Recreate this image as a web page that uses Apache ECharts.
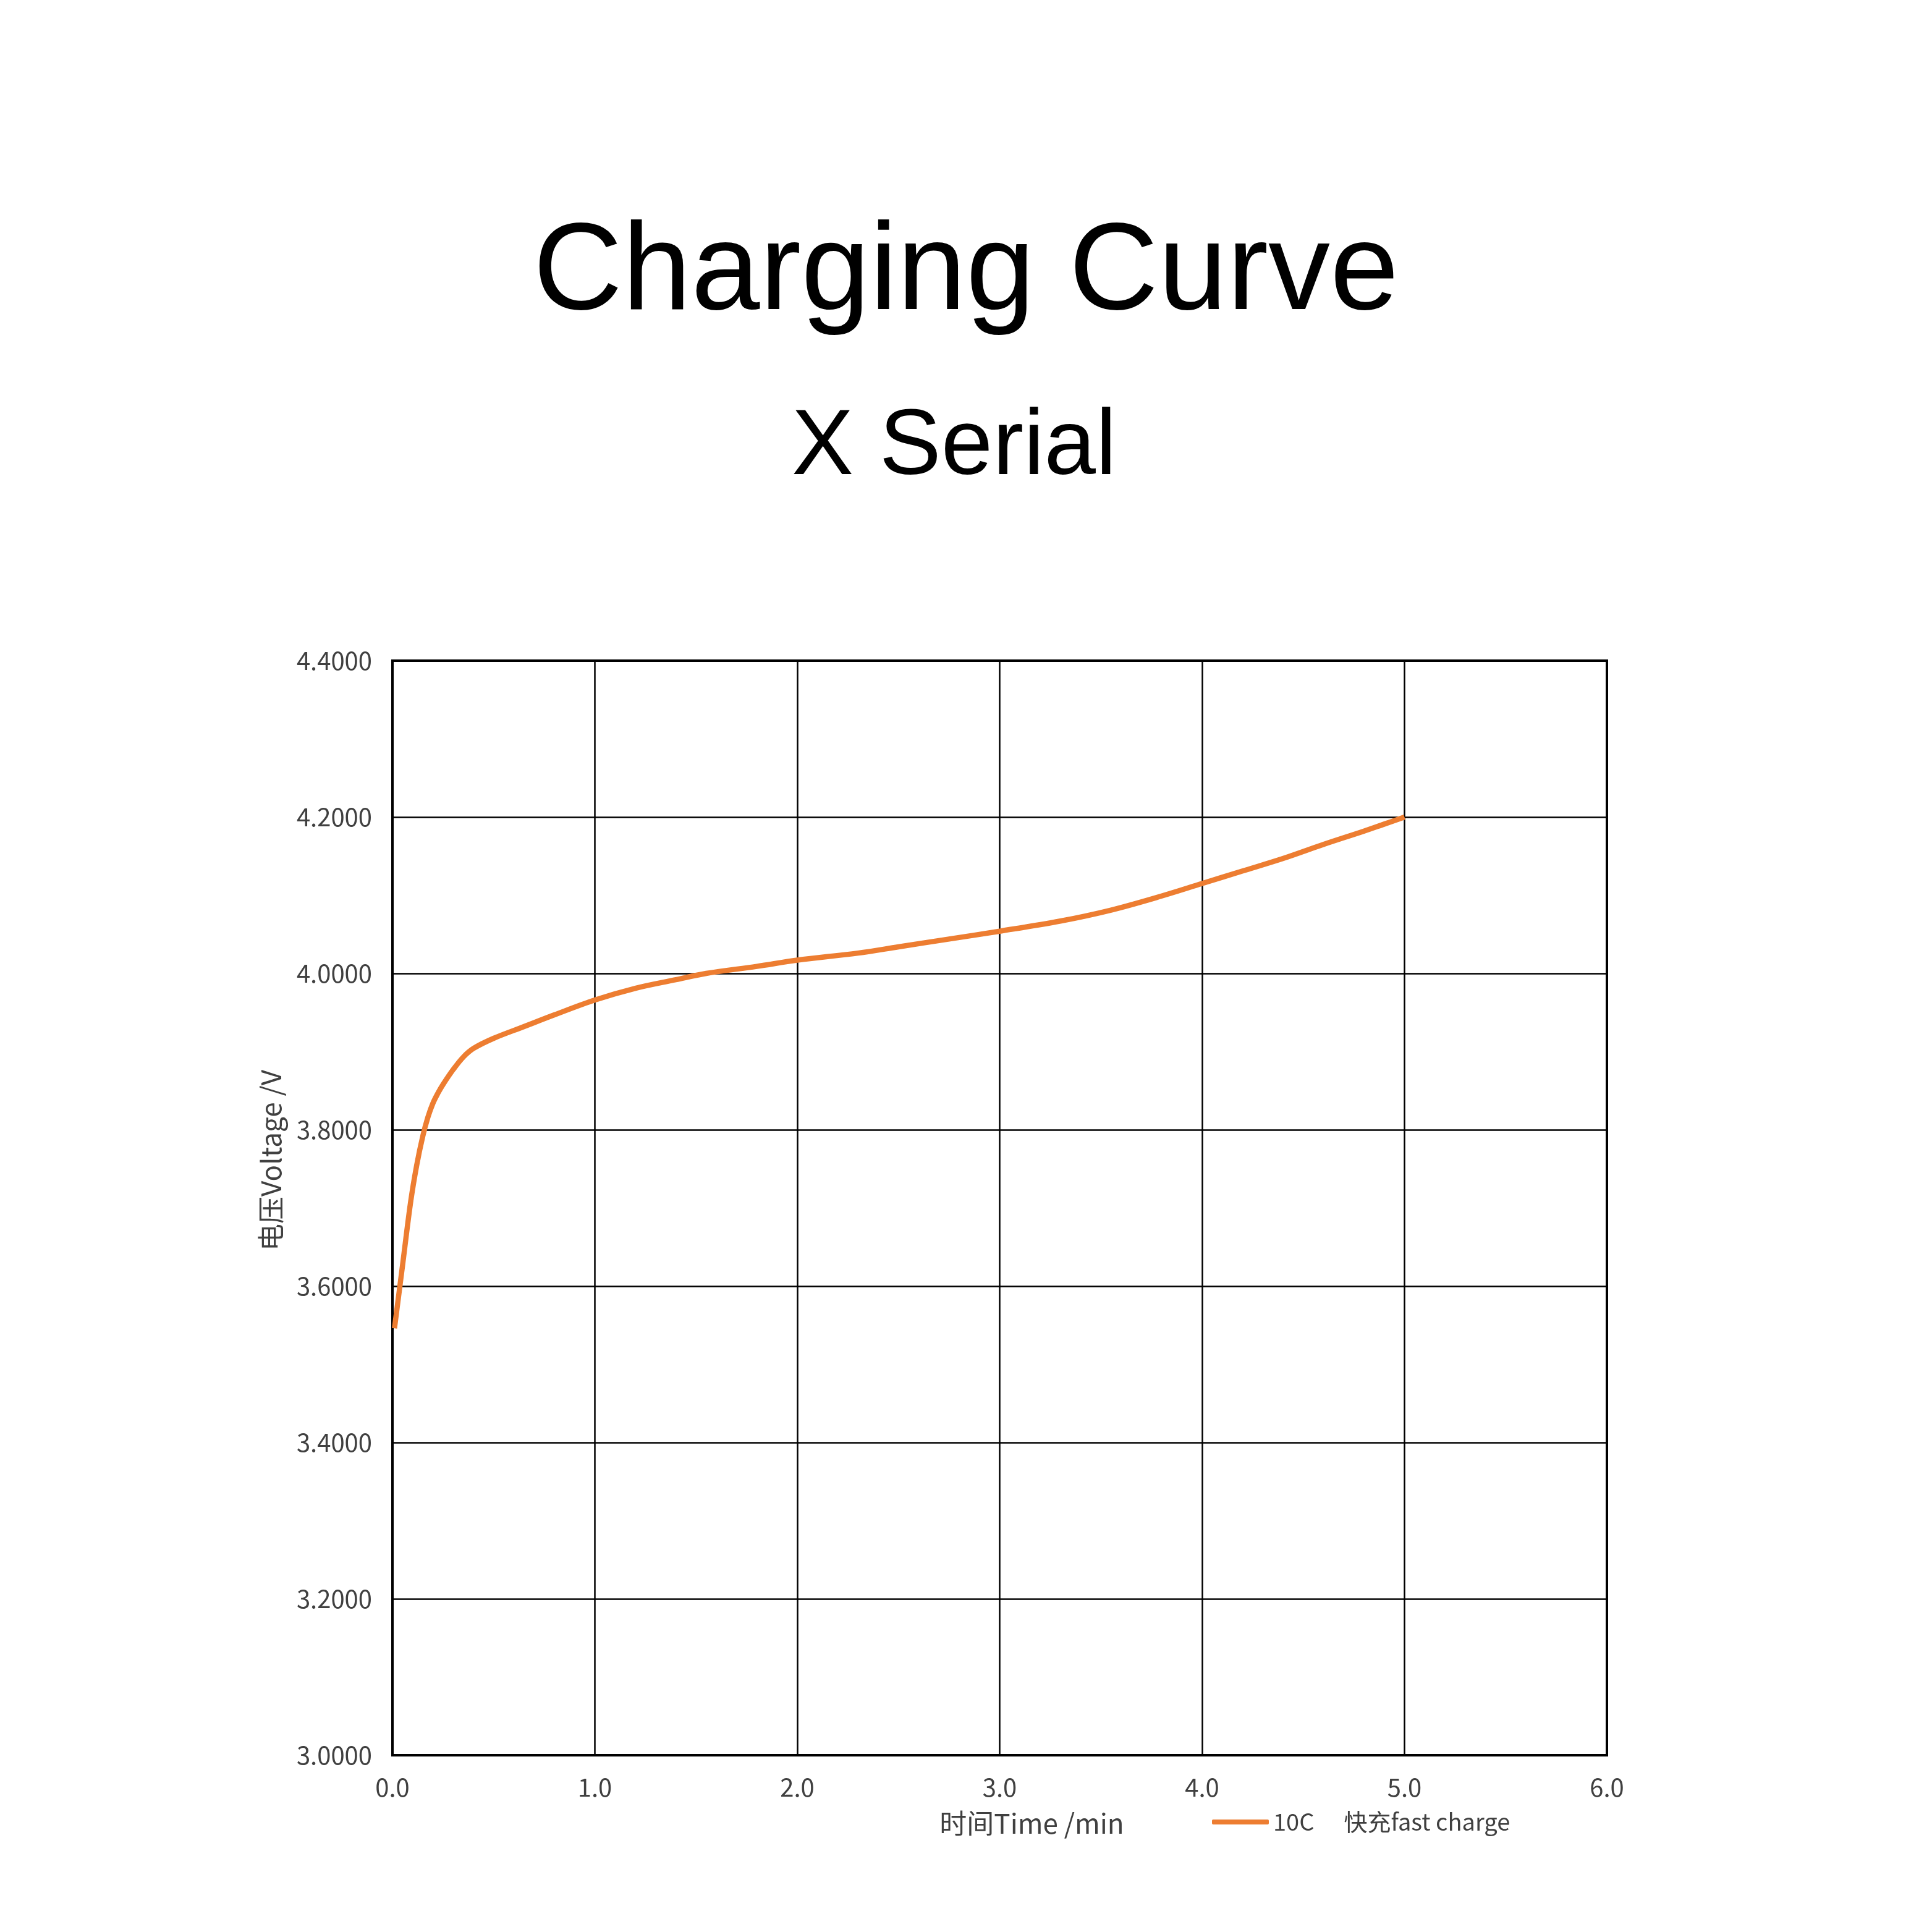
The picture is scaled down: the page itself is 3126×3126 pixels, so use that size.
<!DOCTYPE html>
<html>
<head>
<meta charset="utf-8">
<style>html,body{margin:0;padding:0;background:#fff;}#c{width:3126px;height:3126px;}</style>
<script src="https://cdn.jsdelivr.net/npm/echarts@6/dist/echarts.min.js"></script>
</head>
<body>
<div id="c"></div>
<script>
// ---- data ----
var titleText = 'Charging Curve';
var subtitleText = 'X Serial';
var xAxisName = '时间Time /min';
var yAxisName = '电压Voltage /V';
var seriesName = '10C';
var seriesNote = '快充fast charge';
var xTickLabels = ['0.0', '1.0', '2.0', '3.0', '4.0', '5.0', '6.0'];
var yTickLabels = ['3.0000', '3.2000', '3.4000', '3.6000', '3.8000', '4.0000', '4.2000', '4.4000'];
var timeMin = [0.01, 0.05, 0.09, 0.12, 0.15, 0.175, 0.20, 0.225, 0.25, 0.30, 0.35, 0.40, 0.50, 0.65, 0.80, 1.00, 1.20, 1.40, 1.55, 1.80, 2.00, 2.30, 2.50, 2.75, 3.00, 3.30, 3.55, 3.80, 4.00, 4.20, 4.40, 4.60, 4.80, 4.90, 5.00];
var voltage = [3.546, 3.627, 3.708, 3.755, 3.792, 3.816, 3.834, 3.847, 3.858, 3.877, 3.893, 3.904, 3.917, 3.932, 3.947, 3.966, 3.981, 3.992, 4.000, 4.009, 4.017, 4.026, 4.034, 4.044, 4.054, 4.067, 4.081, 4.099, 4.115, 4.131, 4.147, 4.165, 4.182, 4.191, 4.200];

var points = timeMin.map(function (t, i) { return [t, voltage[i]]; });

var chart = echarts.init(document.getElementById('c'), null, {renderer: 'canvas'});
var labelFont = '"Noto Sans CJK SC", "Noto Sans", sans-serif';
chart.setOption({
  backgroundColor: '#ffffff',
  animation: false,
  title: [
    {text: titleText, left: 'center', top: 340,
     textStyle: {fontFamily: '"Liberation Sans", Arial, sans-serif', fontSize: 200, fontWeight: 'normal', color: '#000'}},
    {text: subtitleText, left: 1276, top: 646,
     textStyle: {fontFamily: '"Liberation Sans", Arial, sans-serif', fontSize: 150, fontWeight: 'normal', color: '#000'}}
  ],
  legend: {
    left: 1956, top: 2924,
    itemWidth: 92, itemHeight: 8, itemGap: 10,
    icon: 'roundRect',
    data: [seriesName],
    formatter: function (name) { return '{a|' + name + '}{b|' + seriesNote + '}'; },
    textStyle: {
      fontFamily: labelFont, fontSize: 38, color: '#404040', padding: [0, 0, 0, 2],
      rich: {
        a: {fontFamily: labelFont, fontSize: 38, color: '#404040'},
        b: {fontFamily: labelFont, fontSize: 38, color: '#404040', padding: [0, 0, 0, 48]}
      }
    }
  },
  grid: {left: 635, right: 526, top: 1069, bottom: 286, show: true, borderColor: '#000', borderWidth: 4, containLabel: false},
  xAxis: {
    type: 'value', min: 0, max: 6, interval: 1,
    name: xAxisName, nameLocation: 'middle', nameGap: 88,
    nameTextStyle: {fontFamily: labelFont, fontSize: 44, color: '#404040', padding: [0, 0, 0, 104]},
    axisLine: {show: true, lineStyle: {color: '#000', width: 4}},
    axisTick: {show: false},
    axisLabel: {fontFamily: labelFont, fontSize: 40, color: '#404040', margin: 32,
      formatter: function (v) { return xTickLabels[Math.round(v)]; }},
    splitLine: {show: true, lineStyle: {color: '#000', width: 2.5}}
  },
  yAxis: {
    type: 'value', min: 3.0, max: 4.4, interval: 0.2,
    name: yAxisName, nameLocation: 'middle', nameGap: 175, nameRotate: 90,
    nameTextStyle: {fontFamily: labelFont, fontSize: 44, color: '#404040', padding: [0, 0, 0, 154]},
    axisLine: {show: true, lineStyle: {color: '#000', width: 4}},
    axisTick: {show: false},
    axisLabel: {fontFamily: labelFont, fontSize: 40, color: '#404040', margin: 33,
      formatter: function (v) { return yTickLabels[Math.round((v - 3.0) / 0.2)]; }},
    splitLine: {show: true, lineStyle: {color: '#000', width: 2.5}}
  },
  series: [{
    name: seriesName, type: 'line', data: points,
    smooth: 0.35, showSymbol: false, symbol: 'none',
    lineStyle: {color: '#ED7D31', width: 8.5},
    itemStyle: {color: '#ED7D31'}
  }]
});
</script>
</body>
</html>
